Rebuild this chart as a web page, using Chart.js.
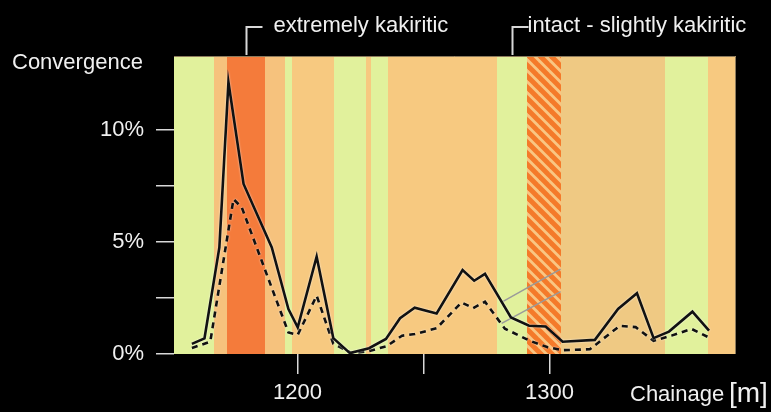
<!DOCTYPE html>
<html><head><meta charset="utf-8">
<script src="https://cdn.jsdelivr.net/npm/chart.js@4/dist/chart.umd.min.js"></script>
<style>html,body{margin:0;padding:0;background:#000;}canvas{display:block;}</style>
</head><body>
<canvas id="c" width="771" height="412"></canvas>
<script>
// ---- data (chainage in m, convergence in %) ----
const solidX = [1158.1,1163.1,1169.0,1172.6,1178.6,1189.8,1196.4,1200.1,1207.6,1214.2,1220.8,1228.4,1235.1,1240.7,1246.5,1255.2,1265.5,1270.1,1274.4,1284.7,1291.9,1298.5,1305.2,1318.0,1327.2,1334.7,1341.3,1347.4,1356.7,1363.3];
const solidY = [0.45,0.70,4.76,12.13,7.59,4.76,2.01,1.19,4.34,0.71,0.04,0.26,0.67,1.60,2.07,1.81,3.75,3.27,3.58,1.63,1.26,1.23,0.55,0.63,2.01,2.71,0.71,1.00,1.89,1.04];
const dashX = [1158.1,1165.4,1174.6,1177.9,1189.8,1196.4,1200.1,1207.6,1214.2,1221.5,1228.0,1235.4,1241.5,1246.6,1255.2,1265.1,1269.7,1274.4,1282.3,1292.2,1299.3,1305.2,1316.0,1327.9,1334.2,1341.3,1348.4,1356.3,1362.7];
const dashY = [0.27,0.55,6.91,6.54,2.95,0.96,0.86,2.60,0.46,0.04,0.12,0.35,0.82,0.89,1.15,2.30,2.05,2.33,1.13,0.59,0.30,0.17,0.21,1.26,1.20,0.59,0.82,1.12,0.77];
const leaderAX = [1281.6,1304.4];
const leaderAY = [2.35,3.79];
const leaderBX = [1281.0,1304.4];
const leaderBY = [1.37,2.78];
// rock-mass zones along the tunnel
const bandStart = [1151,1167,1172,1187,1195,1198,1214.5,1227,1229,1236,1279,1291,1304.5,1346,1363];
const bandEnd   = [1167,1172,1187,1195,1198,1214.5,1227,1229,1236,1279,1291,1304.5,1346,1363,1374];
const bandKind  = ['intact','moderate','extreme','moderate','intact','slight','intact','slight','intact','slight','intact','hatched','slight2','intact','slight'];
const zoneLabels = ['extremely kakiritic','intact - slightly kakiritic'];
const zoneAnchors = [1179.5,1285];
const xTicks = [1200,1250,1300,1350];
const xLabelled = [1200,1300];
const yTicks = [0,2.5,5,7.5,10];
const yLabelled = [0,5,10];

const FONT = "'Liberation Sans', Arial, sans-serif";
const bandColors = {intact:'#e1f19c', moderate:'#f6c27d', extreme:'#f47b3b', slight:'#f7c980', slight2:'#efc983'};

function hatchPattern(ctx){
  const s = 11, c = document.createElement('canvas');
  c.width = s; c.height = s;
  const g = c.getContext('2d');
  g.fillStyle = '#f9c683'; g.fillRect(0,0,s,s);
  g.strokeStyle = '#f47a2a'; g.lineWidth = 5;
  for (const o of [-s,0,s]) { g.beginPath(); g.moveTo(o-2,-2); g.lineTo(o+s+2,s+2); g.stroke(); }
  return ctx.createPattern(c,'repeat');
}

const bandsPlugin = {
  id:'bands',
  beforeDatasetsDraw(chart){
    const {ctx, chartArea:a, scales:{x}} = chart;
    ctx.save();
    ctx.beginPath(); ctx.rect(a.left,a.top,a.right-a.left,a.bottom-a.top); ctx.clip();
    const pat = hatchPattern(ctx);
    bandStart.forEach((s,i)=>{
      const x0 = Math.round(x.getPixelForValue(s)), x1 = Math.round(x.getPixelForValue(bandEnd[i]));
      ctx.fillStyle = bandKind[i]==='hatched' ? pat : bandColors[bandKind[i]];
      ctx.fillRect(x0, a.top, x1-x0, a.bottom-a.top);
    });
    ctx.restore();
    ctx.save();
    ctx.strokeStyle = '#8c7a5c'; ctx.lineWidth = 1;
    ctx.beginPath(); ctx.moveTo(a.left, a.top+0.5); ctx.lineTo(a.right-0.5, a.top+0.5); ctx.lineTo(a.right-0.5, a.bottom); ctx.stroke();
    ctx.restore();
  },
  beforeDatasetDraw(chart, args){
    const ctx = chart.ctx; ctx.save();
    if (args.index >= 2) { ctx.shadowColor = 'rgba(255,255,255,0.8)'; ctx.shadowBlur = 2; }
  },
  afterDatasetDraw(chart){ chart.ctx.restore(); },
  afterDraw(chart){
    const {ctx, chartArea:a, scales:{x}} = chart;
    ctx.save();
    ctx.fillStyle = '#f0f0f0'; ctx.strokeStyle = '#d8d8d8'; ctx.lineWidth = 2;
    ctx.textBaseline = 'alphabetic'; ctx.textAlign = 'left';
    ctx.font = '22px ' + FONT;
    ctx.fillText('Convergence', 12, 69);
    ctx.fillText('Chainage', 630, 401);
    ctx.font = '28px ' + FONT;
    ctx.fillText('[m]', 729, 402);
    ctx.font = '22px ' + FONT;
    zoneAnchors.forEach((v,i)=>{
      const px = Math.round(x.getPixelForValue(v)) + 0.5;
      ctx.beginPath(); ctx.moveTo(px, a.top-1); ctx.lineTo(px, 27); ctx.lineTo(px+16, 27); ctx.stroke();
      ctx.fillText(zoneLabels[i], px + (i===0?27:15), 32);
    });
    ctx.restore();
  }
};

const pts = (xs, ys) => xs.map((v,i)=>({x:v, y:ys[i]}));

new Chart(document.getElementById('c'), {
  type:'line',
  data:{ datasets:[
    {label:'leaderA', data:pts(leaderAX,leaderAY), borderColor:'#9a9a9a', borderWidth:1.5, pointRadius:0, order:4},
    {label:'leaderB', data:pts(leaderBX,leaderBY), borderColor:'#9a9a9a', borderWidth:1.5, pointRadius:0, order:3},
    {label:'dashed', data:pts(dashX,dashY), borderColor:'#111', borderWidth:2.6, borderDash:[6,5], pointRadius:0, tension:0, order:2},
    {label:'solid', data:pts(solidX,solidY), borderColor:'#111', borderWidth:2.6, pointRadius:0, tension:0, order:1}
  ]},
  options:{
    responsive:false, animation:false, events:[],
    layout:{padding:{top:56, right:35, left:0, bottom:0}},
    plugins:{legend:{display:false}, tooltip:{enabled:false}},
    scales:{
      x:{type:'linear', min:1151, max:1374,
        afterBuildTicks(s){ s.ticks = xTicks.map(v=>({value:v})); },
        afterFit(s){ s.height = 58; },
        border:{display:false},
        grid:{drawOnChartArea:false, drawTicks:true, tickLength:20, lineWidth:1.5,
          tickColor:(c)=> (c.tick && c.tick.value !== 1350) ? '#d8d8d8' : 'rgba(0,0,0,0)'},
        ticks:{color:'#f0f0f0', font:{family:FONT, size:22}, padding:6, maxRotation:0, autoSkip:false,
          callback:(v)=> xLabelled.includes(v) ? String(v) : ''}
      },
      y:{min:0, max:13.3,
        afterBuildTicks(s){ s.ticks = yTicks.map(v=>({value:v})); },
        afterFit(s){ s.width = 174; },
        border:{display:false},
        grid:{drawOnChartArea:false, drawTicks:true, tickLength:18, lineWidth:1.5, tickColor:'#d8d8d8'},
        ticks:{color:'#f0f0f0', font:{family:FONT, size:22}, padding:12, autoSkip:false,
          callback:(v)=> yLabelled.includes(v) ? v+'%' : ''}
      }
    }
  },
  plugins:[bandsPlugin]
});
</script>
</body></html>
